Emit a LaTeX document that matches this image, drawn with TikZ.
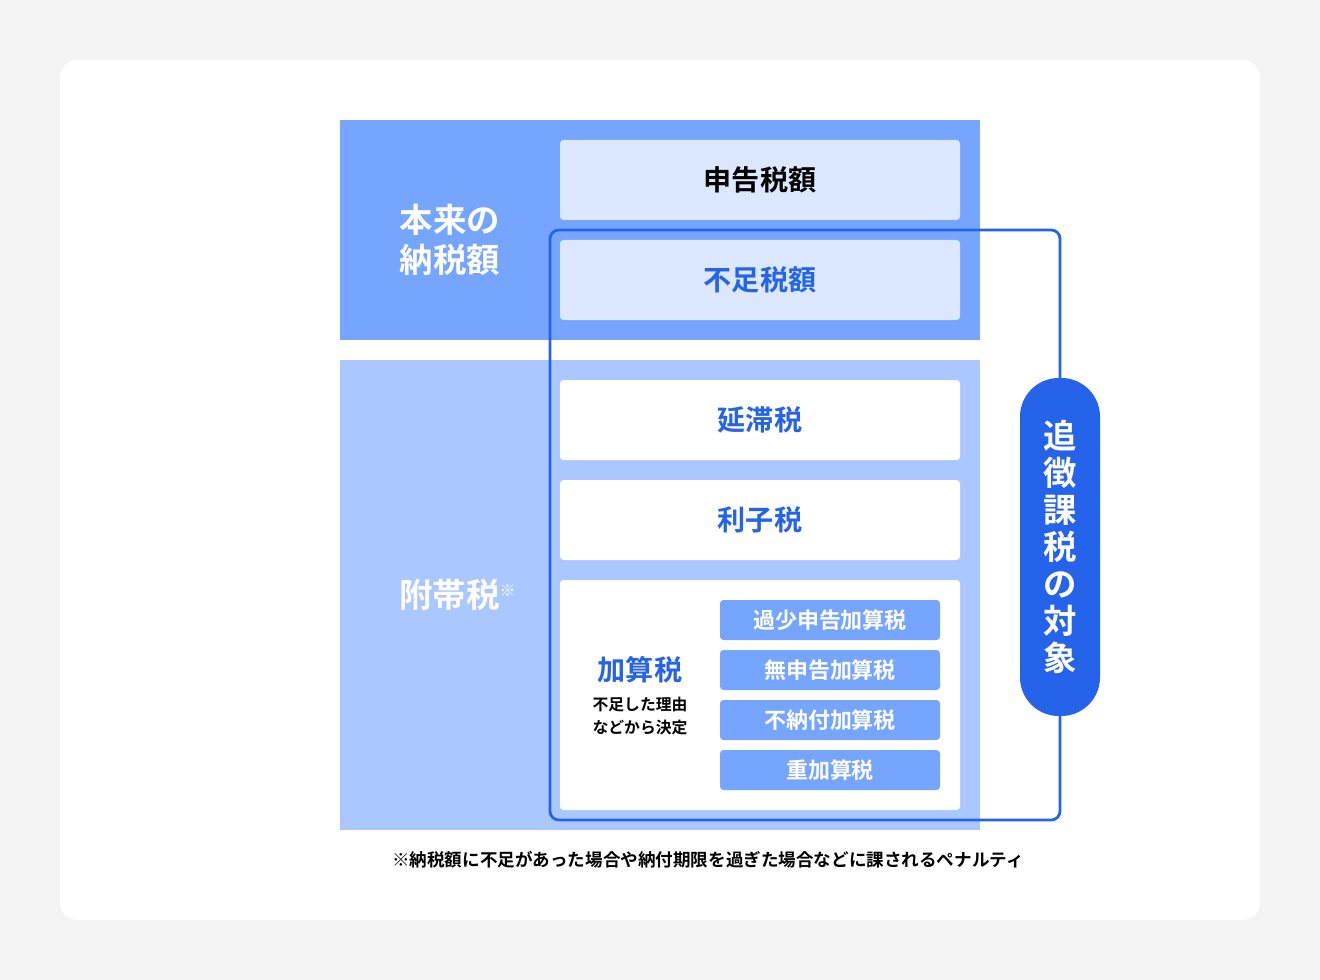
\documentclass[tikz,border=0pt]{standalone}
\usepackage{fontspec}
\setmainfont{Noto Sans CJK JP}[BoldFont={Noto Sans CJK JP Bold}]
\definecolor{pagebg}{HTML}{F5F4F5}
\definecolor{darkblk}{HTML}{75A5FF}
\definecolor{lightblk}{HTML}{AAC8FF}
\definecolor{paleblk}{HTML}{DCE8FF}
\definecolor{mainblue}{HTML}{2563EB}
\tikzset{
	rowbox/.style={fill=#1, draw=none, rounded corners=2pt},
	rowtext/.style={font=\bfseries\fontsize{16}{18}\selectfont, text=mainblue},
	subtext/.style={font=\bfseries\fontsize{12.5}{14}\selectfont, text=white},
}
\begin{document}
\begin{tikzpicture}[x=0.02cm, y=-0.02cm]
	\fill [pagebg] (0,0) rectangle (1320,980);
	\fill [white, rounded corners=10pt] (60,60) rectangle (1260,920);
	% blocks
	\fill [darkblk] (340,120) rectangle (980,340);
	\fill [lightblk] (340,360) rectangle (980,830);
	\node [font=\bfseries\fontsize{19}{23}\selectfont, text=white, align=center]
		(honrai) at (450,240) {本来の\\納税額};
	\node [font=\bfseries\fontsize{19}{23}\selectfont, text=white]
		(futai) at (458,595) {附帯税\textsuperscript{\fontsize{9}{9}\selectfont ※}};
	% rows
	\fill [rowbox=paleblk] (560,140) rectangle (960,220);
	\node [rowtext, text=black] (shinkoku) at (760,180) {申告税額};
	\fill [rowbox=paleblk] (560,240) rectangle (960,320);
	\node [rowtext] (fusoku) at (760,280) {不足税額};
	\fill [rowbox=white] (560,380) rectangle (960,460);
	\node [rowtext] (entai) at (760,420) {延滞税};
	\fill [rowbox=white] (560,480) rectangle (960,560);
	\node [rowtext] (rishi) at (760,520) {利子税};
	\fill [rowbox=white] (560,580) rectangle (960,810);
	\node [rowtext] (kasan) at (640,670) {加算税};
	\node [font=\bfseries\fontsize{9}{13}\selectfont, align=center]
		(riyu) at (640,716) {不足した理由\\などから決定};
	% sub boxes
	\foreach \y/\t/\n in {600/過少申告加算税/kasho, 650/無申告加算税/mushin,
		700/不納付加算税/funou, 750/重加算税/juka} {
		\fill [rowbox=darkblk] (720,\y) rectangle (940,\y+40);
		\node [subtext] (\n) at (830,\y+20) {\t};
	}
	% outline and pill
	\draw [mainblue, line width=1.6pt, rounded corners=5pt] (550,230) rectangle (1060,820);
	\fill [mainblue, rounded corners=22pt] (1020,378) rectangle (1100,716);
	\node [font=\bfseries\fontsize{19}{21}\selectfont, text=white, align=center]
		(tsuicho) at (1060,547) {追\\徴\\課\\税\\の\\対\\象};
	% note
	\node [font=\bfseries\fontsize{10}{12}\selectfont] (note) at (708,860)
		{※納税額に不足があった場合や納付期限を過ぎた場合などに課されるペナルティ};
\end{tikzpicture}
\end{document}
